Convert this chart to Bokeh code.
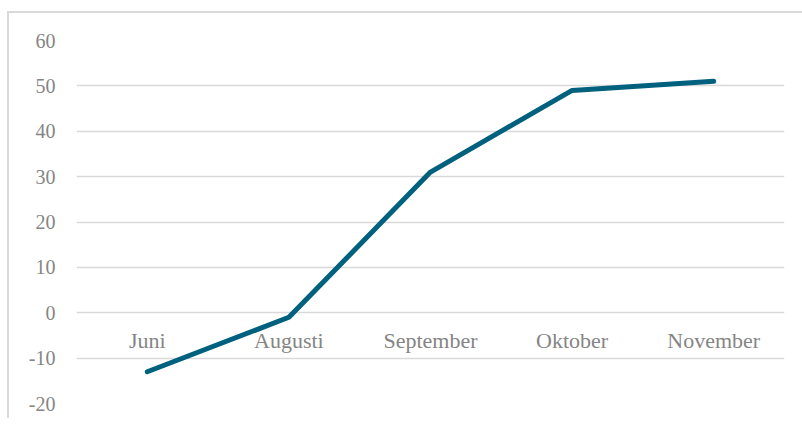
from bokeh.plotting import figure
from bokeh.models import FactorRange, ColumnDataSource, Label, FixedTicker, InlineStyleSheet
from bokeh.core.properties import value
from bokeh.embed import file_html
from bokeh.resources import INLINE

title_text = "Figur 2: Förändring av antal anställda, netto, (%, säsongsrensad)"
months = ["Juni", "Augusti", "September", "Oktober", "November"]
net_values = [-13, -1, 31, 49, 51]
y_ticks = [-20, -10, 0, 10, 20, 30, 40, 50, 60]
label_y = [0, 0, 0, 0, 0]

FONT = "Liberation Serif"
GRAY = "#858585"
GRID = "#d9d9d9"

p = figure(
    width=802, height=418,
    x_range=FactorRange(*months, range_padding=0),
    y_range=(-20, 60),
    output_backend="svg", toolbar_location=None,
    min_border_left=76, min_border_right=18,
    min_border_top=40, min_border_bottom=15,
)
p.outline_line_color = None
p.background_fill_color = "white"
p.border_fill_color = "white"

box_css = InlineStyleSheet(css="""
:host::after {
  content: "";
  position: absolute;
  left: 7px; top: 11px; right: 0px; bottom: 0px;
  border-left: 2px solid #d9d9d9;
  border-top: 2px solid #d9d9d9;
  pointer-events: none;
}
""")
p.stylesheets = [box_css]

p.xaxis.visible = False
p.xgrid.grid_line_color = None
p.ygrid.grid_line_color = GRID
p.ygrid.grid_line_width = 1.5

ya = p.yaxis[0]
ya.ticker = FixedTicker(ticks=y_ticks)
ya.major_label_overrides = {t: str(t) for t in y_ticks}
ya.axis_line_color = None
ya.major_tick_line_color = None
ya.minor_tick_line_color = None
ya.major_tick_out = 0
ya.major_tick_in = 0
ya.major_label_standoff = 21
ya.major_label_text_font = FONT
ya.major_label_text_font_size = "20px"
ya.major_label_text_color = GRAY

src = ColumnDataSource(dict(month=months, val=net_values, ly=label_y))

p.text(x="month", y="ly", text="month", source=src,
       text_font=value(FONT), text_font_size="22px", text_color=GRAY,
       text_align="center", text_baseline="middle", y_offset=28)

p.line(x="month", y="val", source=src, line_color="#00617F", line_width=5,
       line_cap="round", line_join="round")

title = Label(x=335, y=401, x_units="screen", y_units="screen", text=title_text,
              text_font=FONT, text_font_size="21px", text_font_style="bold",
              text_color="black", text_align="center", text_baseline="alphabetic")
p.add_layout(title)

open("out.html", "w").write(file_html(p, INLINE))
